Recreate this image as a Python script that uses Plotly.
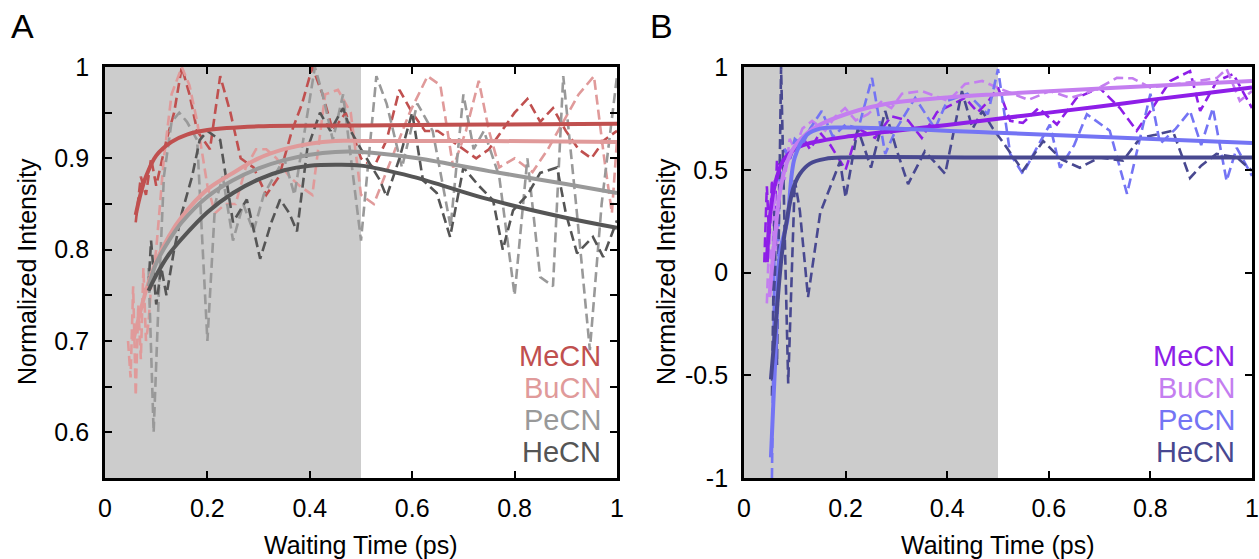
import plotly.graph_objects as go

# ---------------- Panel A data (dashed = measured, solid = fit) ----------------
a_me_x = [0.06, 0.07, 0.08, 0.09, 0.10, 0.12, 0.135, 0.15, 0.165, 0.18, 0.205, 0.225, 0.245, 0.265, 0.29, 0.315, 0.34, 0.365, 0.385, 0.405, 0.425, 0.445, 0.47, 0.5, 0.525, 0.55, 0.575, 0.6, 0.625, 0.65, 0.675, 0.7, 0.725, 0.75, 0.775, 0.8, 0.825, 0.85, 0.875, 0.9, 0.925, 0.95, 0.975, 1.0]
a_me_y = [0.83, 0.88, 0.86, 0.90, 0.87, 0.92, 0.95, 1.0, 0.97, 0.93, 0.91, 0.99, 0.95, 0.90, 0.89, 0.86, 0.88, 0.93, 0.96, 1.0, 0.97, 0.93, 0.95, 0.90, 0.89, 0.92, 0.975, 0.95, 0.93, 0.93, 0.92, 0.91, 0.90, 0.91, 0.93, 0.95, 0.965, 0.94, 0.955, 0.93, 0.91, 0.90, 0.92, 0.93]

a_bu_x = [0.045, 0.05, 0.055, 0.06, 0.065, 0.07, 0.075, 0.08, 0.085, 0.09, 0.1, 0.115, 0.13, 0.15, 0.165, 0.18, 0.2, 0.215, 0.235, 0.255, 0.275, 0.295, 0.315, 0.335, 0.36, 0.38, 0.405, 0.43, 0.455, 0.48, 0.5, 0.525, 0.56, 0.595, 0.63, 0.655, 0.68, 0.705, 0.73, 0.75, 0.77, 0.8, 0.835, 0.865, 0.895, 0.925, 0.955, 0.975, 0.99, 1.0]
a_bu_y = [0.70, 0.66, 0.76, 0.64, 0.74, 0.68, 0.78, 0.70, 0.72, 0.76, 0.80, 0.90, 0.97, 1.0, 0.98, 0.94, 0.87, 0.84, 0.85, 0.85, 0.89, 0.91, 0.91, 0.90, 0.88, 0.87, 0.86, 0.97, 0.975, 0.95, 0.86, 0.85, 0.90, 0.95, 0.99, 0.98, 0.89, 0.93, 0.985, 0.93, 0.89, 0.90, 0.885, 0.91, 0.94, 0.97, 0.99, 0.90, 0.84, 0.92]

a_pe_x = [0.085, 0.095, 0.105, 0.115, 0.13, 0.145, 0.16, 0.18, 0.2, 0.215, 0.23, 0.25, 0.27, 0.29, 0.31, 0.33, 0.35, 0.37, 0.39, 0.41, 0.425, 0.445, 0.465, 0.485, 0.5, 0.515, 0.53, 0.55, 0.58, 0.61, 0.64, 0.675, 0.7, 0.72, 0.74, 0.77, 0.8, 0.825, 0.85, 0.875, 0.895, 0.92, 0.947, 0.97, 1.0]
a_pe_y = [0.78, 0.60, 0.75, 0.88, 0.94, 0.95, 0.94, 0.92, 0.70, 0.85, 0.88, 0.81, 0.85, 0.82, 0.86, 0.88, 0.90, 0.86, 0.93, 1.0, 0.97, 0.92, 0.97, 0.88, 0.81, 0.90, 0.99, 0.96, 0.89, 0.96, 0.93, 0.825, 0.97, 0.91, 0.93, 0.88, 0.75, 0.90, 0.77, 0.76, 0.99, 0.85, 0.69, 0.85, 0.99]

a_he_x = [0.085, 0.09, 0.10, 0.11, 0.12, 0.135, 0.15, 0.17, 0.185, 0.2, 0.225, 0.25, 0.277, 0.303, 0.325, 0.342, 0.36, 0.375, 0.395, 0.42, 0.44, 0.465, 0.48, 0.5, 0.537, 0.55, 0.575, 0.6, 0.621, 0.648, 0.674, 0.7, 0.73, 0.758, 0.777, 0.797, 0.825, 0.85, 0.883, 0.9, 0.922, 0.953, 0.973, 1.0]
a_he_y = [0.76, 0.81, 0.74, 0.78, 0.75, 0.80, 0.84, 0.88, 0.92, 0.93, 0.92, 0.83, 0.855, 0.79, 0.83, 0.855, 0.84, 0.82, 0.91, 0.95, 0.93, 0.955, 0.93, 0.91, 0.876, 0.858, 0.90, 0.95, 0.876, 0.862, 0.814, 0.89, 0.87, 0.854, 0.80, 0.843, 0.86, 0.884, 0.89, 0.84, 0.796, 0.814, 0.792, 0.832]

a_me_fit_x = [0.06, 0.07, 0.08, 0.10, 0.13, 0.16, 0.2, 0.3, 0.5, 0.75, 1.0]
a_me_fit_y = [0.838, 0.862, 0.88, 0.903, 0.918, 0.926, 0.931, 0.935, 0.936, 0.937, 0.938]
a_bu_fit_x = [0.055, 0.08, 0.1, 0.125, 0.15, 0.2, 0.25, 0.3, 0.35, 0.4, 0.45, 0.5, 0.75, 1.0]
a_bu_fit_y = [0.70, 0.755, 0.787, 0.815, 0.836, 0.866, 0.884, 0.900, 0.910, 0.916, 0.919, 0.919, 0.919, 0.918]
a_pe_fit_x = [0.085, 0.1, 0.125, 0.15, 0.2, 0.25, 0.3, 0.35, 0.4, 0.45, 0.5, 0.6, 0.75, 0.9, 1.0]
a_pe_fit_y = [0.76, 0.785, 0.81, 0.83, 0.858, 0.876, 0.889, 0.898, 0.904, 0.907, 0.907, 0.901, 0.886, 0.872, 0.862]
a_he_fit_x = [0.085, 0.1, 0.125, 0.15, 0.2, 0.25, 0.3, 0.35, 0.4, 0.45, 0.5, 0.6, 0.75, 0.9, 1.0]
a_he_fit_y = [0.755, 0.772, 0.795, 0.812, 0.841, 0.862, 0.877, 0.887, 0.892, 0.893, 0.892, 0.880, 0.855, 0.835, 0.824]

# ---------------- Panel B data ----------------
b_me_x = [0.04, 0.045, 0.05, 0.055, 0.06, 0.065, 0.07, 0.08, 0.09, 0.1, 0.115, 0.13, 0.15, 0.17, 0.2, 0.225, 0.258, 0.29, 0.323, 0.35, 0.38, 0.41, 0.435, 0.46, 0.48, 0.5, 0.524, 0.549, 0.58, 0.616, 0.655, 0.7, 0.74, 0.773, 0.8, 0.839, 0.878, 0.898, 0.931, 0.963, 1.0]
b_me_y = [0.05, 0.42, 0.15, 0.45, 0.25, 0.55, 0.45, 0.6, 0.55, 0.62, 0.66, 0.60, 0.68, 0.62, 0.50, 0.70, 0.655, 0.76, 0.74, 0.655, 0.78, 0.82, 0.85, 0.78, 0.83, 0.90, 0.738, 0.728, 0.80, 0.72, 0.85, 0.898, 0.80, 0.69, 0.786, 0.932, 0.98, 0.786, 0.932, 0.966, 0.80]

b_bu_x = [0.045, 0.05, 0.055, 0.06, 0.065, 0.07, 0.08, 0.09, 0.1, 0.115, 0.134, 0.16, 0.18, 0.199, 0.22, 0.244, 0.27, 0.29, 0.311, 0.35, 0.375, 0.402, 0.435, 0.469, 0.5, 0.53, 0.56, 0.602, 0.642, 0.67, 0.7, 0.734, 0.765, 0.8, 0.852, 0.89, 0.931, 0.95, 0.976, 1.0]
b_bu_y = [-0.15, 0.2, -0.05, 0.45, 0.1, 0.55, 0.45, 0.65, 0.6, 0.7, 0.738, 0.69, 0.76, 0.80, 0.74, 0.77, 0.83, 0.80, 0.87, 0.883, 0.86, 0.835, 0.917, 0.932, 0.898, 0.87, 0.84, 0.883, 0.85, 0.87, 0.90, 0.947, 0.945, 0.90, 0.917, 0.93, 0.947, 0.99, 0.835, 0.883]

b_pe_x = [0.055, 0.06, 0.065, 0.07, 0.08, 0.09, 0.1, 0.115, 0.13, 0.153, 0.175, 0.2, 0.225, 0.252, 0.278, 0.3, 0.337, 0.376, 0.4, 0.44, 0.48, 0.5, 0.524, 0.549, 0.575, 0.602, 0.622, 0.65, 0.675, 0.72, 0.754, 0.8, 0.819, 0.85, 0.878, 0.9, 0.923, 0.95, 0.97, 1.0]
b_pe_y = [-1.0, 0.1, -0.2, 0.45, 0.6, 0.55, 0.65, 0.62, 0.70, 0.786, 0.66, 0.72, 0.70, 0.947, 0.577, 0.70, 0.85, 0.70, 0.835, 0.87, 0.77, 0.99, 0.577, 0.48, 0.60, 0.72, 0.51, 0.62, 0.77, 0.69, 0.383, 0.87, 0.626, 0.70, 0.786, 0.62, 0.80, 0.446, 0.607, 0.47]

b_he_x = [0.055, 0.06, 0.065, 0.073, 0.08, 0.087, 0.1, 0.11, 0.126, 0.15, 0.175, 0.189, 0.2, 0.224, 0.25, 0.278, 0.3, 0.323, 0.356, 0.396, 0.429, 0.45, 0.469, 0.49, 0.508, 0.549, 0.589, 0.625, 0.661, 0.7, 0.746, 0.78, 0.81, 0.844, 0.878, 0.9, 0.93, 0.97, 1.0]
b_he_y = [-0.6, 0.3, -0.45, 1.0, 0.2, -0.54, 0.45, 0.3, -0.12, 0.29, 0.45, 0.54, 0.365, 0.70, 0.51, 0.786, 0.60, 0.43, 0.59, 0.48, 0.883, 0.70, 0.786, 0.70, 0.64, 0.495, 0.64, 0.55, 0.51, 0.56, 0.544, 0.655, 0.67, 0.69, 0.46, 0.52, 0.577, 0.56, 0.495]

b_me_fit_x = [0.045, 0.051, 0.06, 0.077, 0.1, 0.124, 0.15, 0.2, 0.3, 0.4, 0.5, 0.6, 0.7, 0.8, 0.9, 1.0]
b_me_fit_y = [0.05, 0.27, 0.42, 0.544, 0.60, 0.626, 0.64, 0.66, 0.69, 0.718, 0.748, 0.778, 0.808, 0.84, 0.87, 0.90]
b_bu_fit_x = [0.05, 0.06, 0.07, 0.08, 0.09, 0.1, 0.125, 0.15, 0.2, 0.25, 0.3, 0.4, 0.5, 0.6, 0.8, 1.0]
b_bu_fit_y = [-0.12, 0.15, 0.38, 0.5, 0.57, 0.615, 0.68, 0.72, 0.77, 0.805, 0.828, 0.852, 0.868, 0.882, 0.908, 0.932]
b_pe_fit_x = [0.053, 0.062, 0.071, 0.085, 0.1, 0.124, 0.15, 0.2, 0.5, 1.0]
b_pe_fit_y = [-0.9, -0.4, 0.1, 0.25, 0.56, 0.67, 0.70, 0.705, 0.68, 0.63]
b_he_fit_x = [0.053, 0.064, 0.075, 0.086, 0.097, 0.11, 0.13, 0.16, 0.2, 0.5, 1.0]
b_he_fit_y = [-0.52, -0.2, 0.1, 0.28, 0.41, 0.48, 0.53, 0.553, 0.56, 0.56, 0.56]

names = ["MeCN", "BuCN", "PeCN", "HeCN"]
colors_a = ["#c0504f", "#e09a9a", "#999999", "#555555"]
colors_b = ["#8e1ee8", "#c47ef0", "#7474f4", "#484890"]

x_ticks = [0, 0.2, 0.4, 0.6, 0.8, 1]
x_tick_text = ["0", "0.2", "0.4", "0.6", "0.8", "1"]
a_y_ticks = [0.55, 0.6, 0.65, 0.7, 0.75, 0.8, 0.85, 0.9, 0.95, 1.0]
a_y_text = ["", "0.6", "", "0.7", "", "0.8", "", "0.9", "", "1"]
b_y_ticks = [-1, -0.5, 0, 0.5, 1]
b_y_text = ["-1", "-0.5", "0", "0.5", "1"]

W, H = 1259, 559
FONT = "Liberation Sans, Arial, Helvetica, sans-serif"

fig = go.Figure()

a_data = [(a_me_x, a_me_y), (a_bu_x, a_bu_y), (a_pe_x, a_pe_y), (a_he_x, a_he_y)]
a_fits = [(a_me_fit_x, a_me_fit_y), (a_bu_fit_x, a_bu_fit_y), (a_pe_fit_x, a_pe_fit_y), (a_he_fit_x, a_he_fit_y)]
b_data = [(b_me_x, b_me_y), (b_bu_x, b_bu_y), (b_pe_x, b_pe_y), (b_he_x, b_he_y)]
b_fits = [(b_me_fit_x, b_me_fit_y), (b_bu_fit_x, b_bu_fit_y), (b_pe_fit_x, b_pe_fit_y), (b_he_fit_x, b_he_fit_y)]

DASH = "10px,5px"
for (xs, ys), c in zip(a_data, colors_a):
    fig.add_trace(go.Scatter(x=xs, y=ys, mode="lines", xaxis="x", yaxis="y",
                             line=dict(color=c, width=2.6, dash=DASH), showlegend=False))
for (xs, ys), c in zip(b_data, colors_b):
    fig.add_trace(go.Scatter(x=xs, y=ys, mode="lines", xaxis="x2", yaxis="y2",
                             line=dict(color=c, width=2.6, dash=DASH), showlegend=False))
for (xs, ys), c in zip(a_fits, colors_a):
    fig.add_trace(go.Scatter(x=xs, y=ys, mode="lines", xaxis="x", yaxis="y",
                             line=dict(color=c, width=4, shape="spline"), showlegend=False))
for (xs, ys), c in zip(b_fits, colors_b):
    fig.add_trace(go.Scatter(x=xs, y=ys, mode="lines", xaxis="x2", yaxis="y2",
                             line=dict(color=c, width=4, shape="spline"), showlegend=False))

def px_x(p):
    return p / W

def px_y(p):
    return 1 - p / H

axis_common = dict(showline=True, linecolor="black", linewidth=2.8, mirror="ticks",
                   ticks="inside", ticklen=7, tickwidth=2, tickcolor="black",
                   showgrid=False, zeroline=False, automargin=False,
                   tickfont=dict(family=FONT, size=25, color="black"))

fig.update_layout(
    width=W, height=H,
    margin=dict(l=0, r=0, t=0, b=0),
    paper_bgcolor="white", plot_bgcolor="white",
    xaxis=dict(domain=[px_x(105), px_x(617)], range=[0, 1], tickvals=x_ticks, ticktext=x_tick_text,
               anchor="y", ticklabelstandoff=6, **axis_common),
    yaxis=dict(domain=[px_y(478), px_y(67)], range=[0.55, 1], tickvals=a_y_ticks, ticktext=a_y_text,
               anchor="x", ticklabelstandoff=8, **axis_common),
    xaxis2=dict(domain=[px_x(744), px_x(1252)], range=[0, 1], tickvals=x_ticks, ticktext=x_tick_text,
                anchor="y2", ticklabelstandoff=6, **axis_common),
    yaxis2=dict(domain=[px_y(478), px_y(67)], range=[-1, 1], tickvals=b_y_ticks, ticktext=b_y_text,
                anchor="x2", ticklabelstandoff=8, **axis_common),
)

fig.add_shape(type="rect", xref="x", yref="y domain", x0=0, x1=0.5, y0=0, y1=1,
              fillcolor="#cccccc", line=dict(width=0), layer="below")
fig.add_shape(type="rect", xref="x2", yref="y2 domain", x0=0, x1=0.5, y0=0, y1=1,
              fillcolor="#cccccc", line=dict(width=0), layer="below")

ann = []
for xc in (27, 666):
    ann.append(dict(text="Normalized Intensity", x=px_x(xc), y=px_y(272), xref="paper", yref="paper",
                    textangle=-90, showarrow=False, xanchor="center", yanchor="middle",
                    font=dict(family=FONT, size=25, color="black")))
for xc in (361, 998):
    ann.append(dict(text="Waiting Time (ps)", x=px_x(xc), y=px_y(545), xref="paper", yref="paper",
                    showarrow=False, xanchor="center", yanchor="middle",
                    font=dict(family=FONT, size=25, color="black")))
for letter, xc in (("A", 22), ("B", 661)):
    ann.append(dict(text=letter, x=px_x(xc), y=px_y(26), xref="paper", yref="paper",
                    showarrow=False, xanchor="center", yanchor="middle",
                    font=dict(family=FONT, size=34, color="black")))
leg_y = [356, 388, 420, 452]
for i, n in enumerate(names):
    ann.append(dict(text=n, x=px_x(603), y=px_y(leg_y[i]), xref="paper", yref="paper",
                    showarrow=False, xanchor="right", yanchor="middle",
                    font=dict(family=FONT, size=29, color=colors_a[i])))
    ann.append(dict(text=n, x=px_x(1237), y=px_y(leg_y[i]), xref="paper", yref="paper",
                    showarrow=False, xanchor="right", yanchor="middle",
                    font=dict(family=FONT, size=29, color=colors_b[i])))
fig.update_layout(annotations=ann)

fig.write_html(
    "out.html",
    config={"displayModeBar": False},
    post_script="document.documentElement.style.margin='0';document.body.style.margin='0';"
                "document.documentElement.style.overflow='hidden';document.body.style.overflow='hidden';",
)
